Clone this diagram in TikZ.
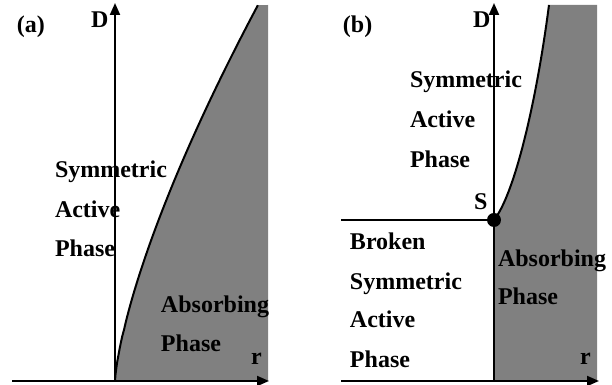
\documentclass[tikz,border=0pt]{standalone}
\usepackage{fontspec}
\setmainfont{Liberation Serif}
\usetikzlibrary{arrows.meta}
\begin{document}
\begin{tikzpicture}[x=1pt, y=1pt,
  every path/.style={line width=1pt},
  axis/.style={draw=black, -{Triangle[length=6pt,width=5pt]}},
  phase/.style={fill=gray, draw=none},
  lbl/.style={font={\fontsize{12}{14}\selectfont\bfseries}, anchor=base west, inner sep=0pt}]
\useasboundingbox (0,0) rectangle (306,192.5);
% panel (a)
\coordinate (oa) at (57.5,2);
\coordinate (xa0) at (6,2);
\coordinate (xa1) at (134.5,2);
\coordinate (ya1) at (57.5,191);
\fill[phase] (oa) -- plot[domain=0.001:1, samples=60] ({57.5+71.5*pow(\x,1.4)},{2+188*\x}) -- (134,190) -- (134,2) -- cycle;
\draw (oa) -- plot[domain=0.001:1, samples=60] ({57.5+71.5*pow(\x,1.4)},{2+188*\x});
\draw[axis] (xa0) -- (xa1);
\draw[axis] (oa) -- (ya1);
\node[lbl] (tag-a) at (8,176) {(a)};
\node[lbl] (d-a) at (45,178.5) {D};
\node[lbl] (r-a) at (125,10) {r};
\node[lbl] (sym-a) at (27,103.5) {Symmetric};
\node[lbl] (act-a) at (27,83.5) {Active};
\node[lbl] (ph-a) at (27,64) {Phase};
\node[lbl] (abs-a) at (80,36) {Absorbing};
\node[lbl] (abph-a) at (80,16.5) {Phase};
% panel (b)
\coordinate (ob) at (247,2);
\coordinate (s) at (247,82.5);
\coordinate (top) at (274.5,190);
\coordinate (xb0) at (170.5,2);
\coordinate (xb1) at (299.5,2);
\coordinate (yb1) at (247,191);
\coordinate (hb0) at (170.5,82.5);
\fill[phase] (ob) -- (s) .. controls (257,95) and (268,140) .. (top) -- (298.5,190) -- (298.5,2) -- cycle;
\draw (s) .. controls (257,95) and (268,140) .. (top);
\draw (hb0) -- (s);
\draw (s) -- (ob);
\draw[axis] (xb0) -- (xb1);
\draw[axis] (ob) -- (yb1);
\fill (s) circle (3.5pt);
\node[lbl] (tag-b) at (171,176) {(b)};
\node[lbl] (d-b) at (236,178.5) {D};
\node[lbl] (r-b) at (289.5,10) {r};
\node[lbl] (s-b) at (236.5,87.5) {S};
\node[lbl] (sym-b) at (204.5,148.5) {Symmetric};
\node[lbl] (act-b) at (204.5,128.5) {Active};
\node[lbl] (ph-b) at (204.5,108.5) {Phase};
\node[lbl] (brk-b) at (174.5,67.5) {Broken};
\node[lbl] (bsym-b) at (174.5,47.5) {Symmetric};
\node[lbl] (bact-b) at (174.5,28.5) {Active};
\node[lbl] (bph-b) at (174.5,8.5) {Phase};
\node[lbl] (abs-b) at (248.5,59) {Absorbing};
\node[lbl] (abph-b) at (248.5,40) {Phase};
\end{tikzpicture}
\end{document}
